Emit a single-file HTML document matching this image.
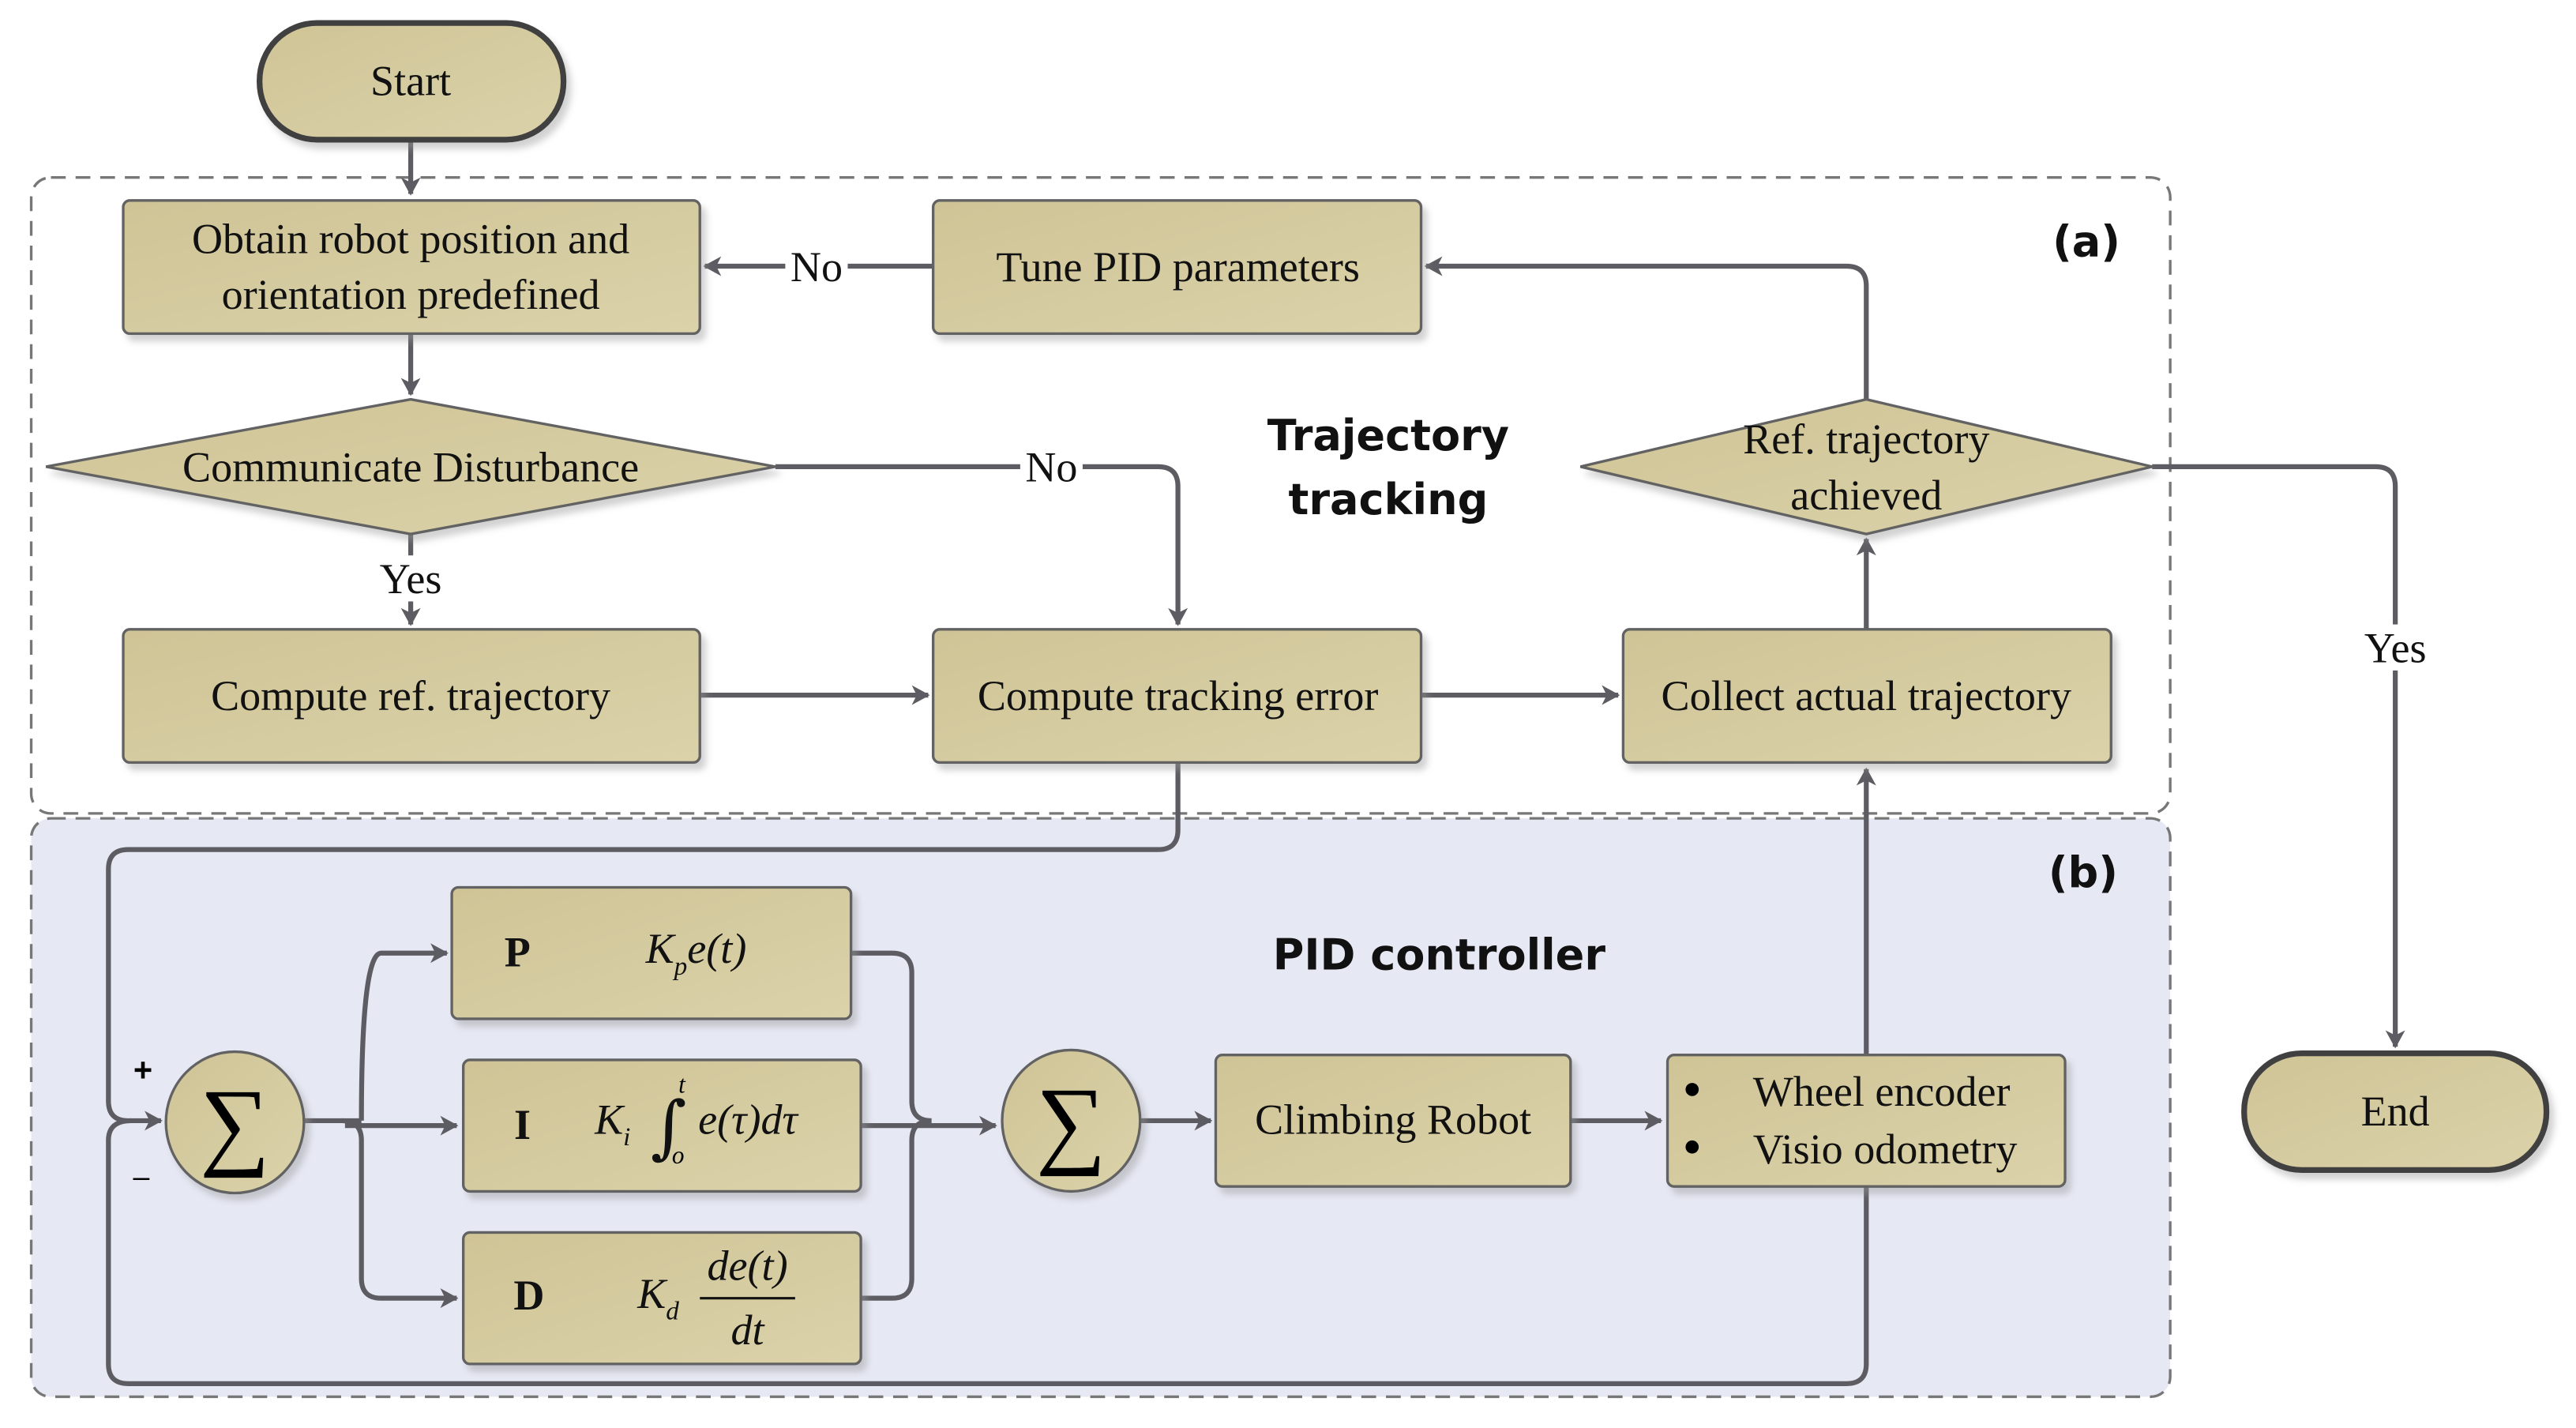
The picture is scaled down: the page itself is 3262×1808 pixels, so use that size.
<!DOCTYPE html>
<html><head><meta charset="utf-8"><style>
html,body{margin:0;padding:0;background:#fff;}
svg{display:block;}
.t{font-family:"Liberation Serif",serif;font-size:26px;fill:#111;}
.h{font-family:"DejaVu Sans","Liberation Sans",sans-serif;font-weight:bold;font-size:26px;fill:#111;}
.ln{fill:none;stroke:#5c5c62;stroke-width:3;}
.bx{fill:url(#g);stroke:#626262;stroke-width:1.6;filter:url(#sh);}
</style></head><body>
<svg width="3262" height="1808" viewBox="0 0 1568 869" preserveAspectRatio="none" xmlns="http://www.w3.org/2000/svg">
<defs>
<linearGradient id="g" x1="0" y1="0" x2="1" y2="1"><stop offset="0" stop-color="#cfc496"/><stop offset="1" stop-color="#dbd2aa"/></linearGradient>
<filter id="sh" x="-10%" y="-10%" width="130%" height="140%"><feDropShadow dx="3" dy="4" stdDeviation="2" flood-color="#999" flood-opacity="0.45"/></filter>
<marker id="a" markerWidth="12" markerHeight="12" refX="10" refY="6" orient="auto" markerUnits="userSpaceOnUse"><path d="M0,0 L11,6 L0,12 L3,6 Z" fill="#5c5c62"/></marker>
</defs>
<rect x="19" y="108" width="1302" height="387" rx="12" fill="none" stroke="#777" stroke-width="1.6" stroke-dasharray="9,6"/>
<rect x="19" y="498" width="1302" height="352" rx="12" fill="#e6e8f4" stroke="#777" stroke-width="1.6" stroke-dasharray="9,6"/>
<text class="h" x="1270" y="156" text-anchor="middle">(a)</text>
<text class="h" x="1268" y="540" text-anchor="middle">(b)</text>
<text class="h" x="845" y="274" text-anchor="middle">Trajectory</text>
<text class="h" x="845" y="313" text-anchor="middle">tracking</text>
<text class="h" x="876" y="590" text-anchor="middle">PID controller</text>
<path class="ln" d="M250,85 V118" marker-end="url(#a)"/>
<path class="ln" d="M250,203 V240" marker-end="url(#a)"/>
<path class="ln" d="M250,325 V380" marker-end="url(#a)"/>
<path class="ln" d="M472,284 H705 Q717,284 717,296 V380" marker-end="url(#a)"/>
<path class="ln" d="M568,162 H429" marker-end="url(#a)"/>
<path class="ln" d="M1136,243 V174 Q1136,162 1124,162 H868" marker-end="url(#a)"/>
<path class="ln" d="M1310,284 H1446 Q1458,284 1458,296 V637" marker-end="url(#a)"/>
<path class="ln" d="M426,423 H565" marker-end="url(#a)"/>
<path class="ln" d="M865,423 H985" marker-end="url(#a)"/>
<path class="ln" d="M1136,383 V328" marker-end="url(#a)"/>
<path class="ln" d="M717,464 V505 Q717,517 705,517 H78 Q66,517 66,529 V670 Q66,682 78,682 H98" marker-end="url(#a)"/>
<path class="ln" d="M80,682 Q66,682 66,694 V830 Q66,842 78,842 H1124 Q1136,842 1136,830 V468" marker-end="url(#a)"/>
<path class="ln" d="M185,682 H220"/>
<path class="ln" d="M220,682 Q220,580 232,580 H272" marker-end="url(#a)"/>
<path class="ln" d="M208,682 Q220,682 220,694 V778 Q220,790 232,790 H278" marker-end="url(#a)"/>
<path class="ln" d="M210,685 H278" marker-end="url(#a)"/>
<path class="ln" d="M518,580 H543 Q555,580 555,592 V670 Q555,682 567,682"/>
<path class="ln" d="M524,685 H606" marker-end="url(#a)"/>
<path class="ln" d="M524,790 H543 Q555,790 555,778 V694 Q555,682 567,682"/>
<path class="ln" d="M694,682 H737" marker-end="url(#a)"/>
<path class="ln" d="M956,682 H1011" marker-end="url(#a)"/>
<rect x="478" y="148" width="38" height="28" fill="#fff"/><text class="t" x="497" y="171" text-anchor="middle">No</text>
<rect x="621" y="270" width="38" height="28" fill="#fff"/><text class="t" x="640" y="293" text-anchor="middle">No</text>
<rect x="228" y="338" width="44" height="28" fill="#fff"/><text class="t" x="250" y="361" text-anchor="middle">Yes</text>
<rect x="1436" y="380" width="44" height="28" fill="#fff"/><text class="t" x="1458" y="403" text-anchor="middle">Yes</text>
<rect x="158" y="14" width="185" height="71" rx="35" fill="url(#g)" stroke="#3f3f3f" stroke-width="3.5" filter="url(#sh)"/>
<text class="t" x="250" y="58" text-anchor="middle">Start</text>
<rect x="1366" y="641" width="184" height="71" rx="35" fill="url(#g)" stroke="#3f3f3f" stroke-width="3.5" filter="url(#sh)"/>
<text class="t" x="1458" y="685" text-anchor="middle">End</text>
<rect class="bx" x="75" y="122" width="351" height="81" rx="4"/>
<text class="t" x="250" y="154" text-anchor="middle">Obtain robot position and</text>
<text class="t" x="250" y="188" text-anchor="middle">orientation predefined</text>
<rect class="bx" x="568" y="122" width="297" height="81" rx="4"/>
<text class="t" x="717" y="171" text-anchor="middle">Tune PID parameters</text>
<polygon class="bx" points="28,284 250,243 472,284 250,325"/>
<text class="t" x="250" y="293" text-anchor="middle">Communicate Disturbance</text>
<polygon class="bx" points="962,284 1136,243 1310,284 1136,325"/>
<text class="t" x="1136" y="276" text-anchor="middle">Ref. trajectory</text>
<text class="t" x="1136" y="310" text-anchor="middle">achieved</text>
<rect class="bx" x="75" y="383" width="351" height="81" rx="4"/>
<text class="t" x="250" y="432" text-anchor="middle">Compute ref. trajectory</text>
<rect class="bx" x="568" y="383" width="297" height="81" rx="4"/>
<text class="t" x="717" y="432" text-anchor="middle">Compute tracking error</text>
<rect class="bx" x="988" y="383" width="297" height="81" rx="4"/>
<text class="t" x="1136" y="432" text-anchor="middle">Collect actual trajectory</text>
<ellipse class="bx" cx="143" cy="683" rx="42" ry="43"/>
<text x="143" y="704" text-anchor="middle" style="font-family:'Liberation Serif',serif;font-size:60px;fill:#000">∑</text>
<ellipse class="bx" cx="652" cy="682" rx="42" ry="43"/>
<text x="652" y="703" text-anchor="middle" style="font-family:'Liberation Serif',serif;font-size:60px;fill:#000">∑</text>
<text x="87" y="658" text-anchor="middle" style="font-family:'Liberation Sans',sans-serif;font-weight:bold;font-size:20px">+</text>
<text x="86" y="722" text-anchor="middle" style="font-family:'Liberation Sans',sans-serif;font-size:18px">–</text>
<rect class="bx" x="275" y="540" width="243" height="80" rx="4"/>
<text class="t" x="315" y="588" text-anchor="middle" style="font-weight:bold">P</text>
<text class="t" x="393" y="586" style="font-style:italic">K<tspan dy="7" font-size="16">p</tspan><tspan dy="-7">e(t)</tspan></text>
<rect class="bx" x="282" y="645" width="242" height="80" rx="4"/>
<text class="t" x="318" y="693" text-anchor="middle" style="font-weight:bold">I</text>
<text class="t" x="362" y="690" style="font-style:italic">K<tspan dy="7" font-size="16">i</tspan></text>
<text x="396" y="700" style="font-family:'DejaVu Serif','Liberation Serif',serif;font-size:42px;fill:#111">∫</text>
<text x="413" y="665" style="font-family:'Liberation Serif',serif;font-style:italic;font-size:15px">t</text>
<text x="409" y="708" style="font-family:'Liberation Serif',serif;font-style:italic;font-size:15px">o</text>
<text class="t" x="425" y="690" style="font-style:italic">e(τ)dτ</text>
<rect class="bx" x="282" y="750" width="242" height="80" rx="4"/>
<text class="t" x="322" y="797" text-anchor="middle" style="font-weight:bold">D</text>
<text class="t" x="388" y="796" style="font-style:italic">K<tspan dy="7" font-size="16">d</tspan></text>
<text class="t" x="455" y="779" text-anchor="middle" style="font-style:italic">de(t)</text>
<line x1="426" y1="790" x2="484" y2="790" stroke="#111" stroke-width="1.5"/>
<text class="t" x="455" y="818" text-anchor="middle" style="font-style:italic">dt</text>
<rect class="bx" x="740" y="642" width="216" height="80" rx="4"/>
<text class="t" x="848" y="690" text-anchor="middle">Climbing Robot</text>
<rect class="bx" x="1015" y="642" width="242" height="80" rx="4"/>
<circle cx="1030" cy="663" r="4" fill="#000"/><circle cx="1030" cy="698" r="4" fill="#000"/>
<text class="t" x="1067" y="673">Wheel encoder</text>
<text class="t" x="1067" y="708">Visio odometry</text>
</svg>
</body></html>
